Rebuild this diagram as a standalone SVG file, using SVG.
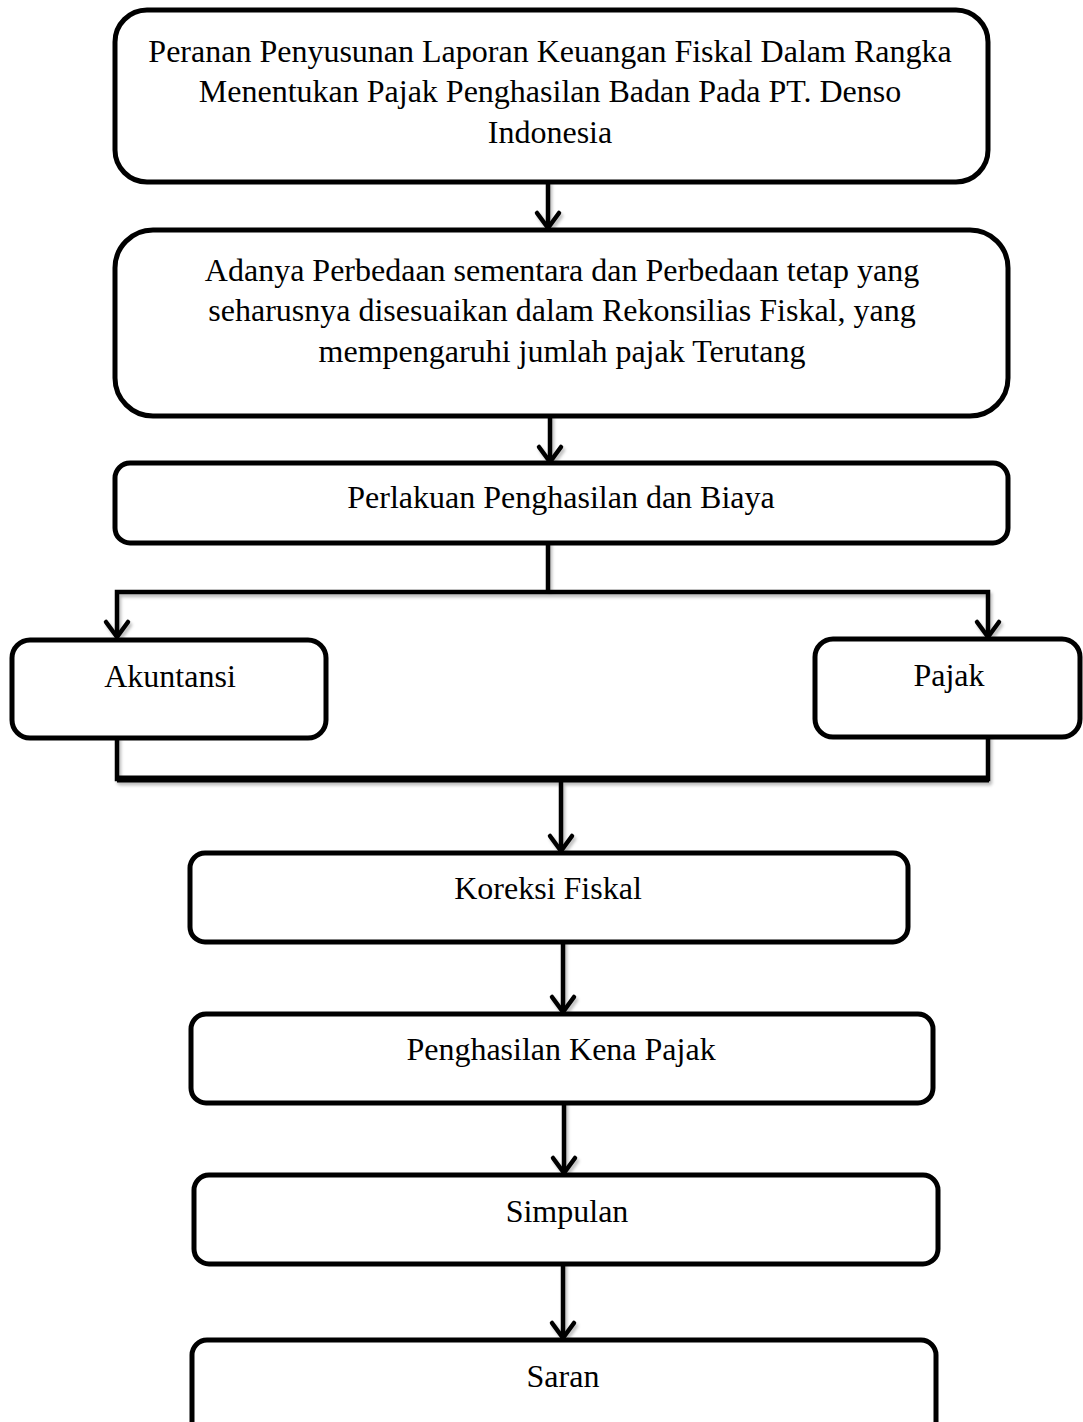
<svg xmlns="http://www.w3.org/2000/svg" width="1083" height="1422" viewBox="0 0 1083 1422">
<style>
.box{fill:#fff;stroke:#000;stroke-width:5}
.t{font-family:"Liberation Serif","Times New Roman",serif;font-size:32px;fill:#000;text-anchor:middle}
.ln{fill:none;stroke:#000;stroke-width:4.5;stroke-linecap:square}
.hd{fill:none;stroke:#000;stroke-width:4.5;stroke-linecap:round;stroke-linejoin:round}
</style>
<defs>
<filter id="sh" x="-5%" y="-5%" width="110%" height="110%">
<feDropShadow dx="2" dy="3" stdDeviation="1.5" flood-color="#000" flood-opacity="0.25"/>
</filter>
</defs>
<rect width="1083" height="1422" fill="#fff"/>
<g id="connectors" filter="url(#sh)">
<path class="ln" d="M548,183 V226"/>
<path class="hd" d="M537,213 L548,228 L559,213"/>
<path class="ln" d="M550,417 V460"/>
<path class="hd" d="M539,447 L550,462 L561,447"/>
<path class="ln" d="M548,543 V592 M117,592 H988 M117,592 V635 M988,592 V635"/>
<path class="hd" d="M106,622 L117,637 L128,622"/>
<path class="hd" d="M977,622 L988,637 L999,622"/>
<path class="ln" d="M117,738 V779 M988,737 V779"/>
<path d="M117,779 H989" stroke="#000" stroke-width="7" fill="none"/>
<path class="ln" d="M561,779 V849"/>
<path class="hd" d="M550,836 L561,851 L572,836"/>
<path class="ln" d="M563,942 V1010"/>
<path class="hd" d="M552,997 L563,1012 L574,997"/>
<path class="ln" d="M564,1103 V1171"/>
<path class="hd" d="M553,1158 L564,1173 L575,1158"/>
<path class="ln" d="M563,1264 V1336"/>
<path class="hd" d="M552,1323 L563,1338 L574,1323"/>
</g>
<g id="n1">
<rect class="box" x="115" y="10" width="873" height="172" rx="32"/>
<text class="t" x="550" y="62">Peranan Penyusunan Laporan Keuangan Fiskal Dalam Rangka</text>
<text class="t" x="550" y="102">Menentukan Pajak Penghasilan Badan Pada PT. Denso</text>
<text class="t" x="550" y="143">Indonesia</text>
</g>
<g id="n2">
<rect class="box" x="115" y="230" width="893" height="186" rx="38"/>
<text class="t" x="562" y="281">Adanya Perbedaan sementara dan Perbedaan tetap yang</text>
<text class="t" x="562" y="321">seharusnya disesuaikan dalam Rekonsilias Fiskal, yang</text>
<text class="t" x="562" y="362">mempengaruhi jumlah pajak Terutang</text>
</g>
<g id="n3">
<rect class="box" x="115" y="463" width="893" height="80" rx="15"/>
<text class="t" x="561" y="508">Perlakuan Penghasilan dan Biaya</text>
</g>
<g id="n4">
<rect class="box" x="12" y="640" width="314" height="98" rx="18"/>
<text class="t" x="170" y="687">Akuntansi</text>
</g>
<g id="n5">
<rect class="box" x="815" y="639" width="265" height="98" rx="18"/>
<text class="t" x="949" y="686">Pajak</text>
</g>
<g id="n6">
<rect class="box" x="190" y="853" width="718" height="89" rx="15"/>
<text class="t" x="548" y="899">Koreksi Fiskal</text>
</g>
<g id="n7">
<rect class="box" x="191" y="1014" width="742" height="89" rx="15"/>
<text class="t" x="561" y="1060">Penghasilan Kena Pajak</text>
</g>
<g id="n8">
<rect class="box" x="194" y="1175" width="744" height="89" rx="15"/>
<text class="t" x="567" y="1222">Simpulan</text>
</g>
<g id="n9">
<rect class="box" x="192" y="1340" width="744" height="100" rx="15"/>
<text class="t" x="563" y="1387">Saran</text>
</g>
</svg>
